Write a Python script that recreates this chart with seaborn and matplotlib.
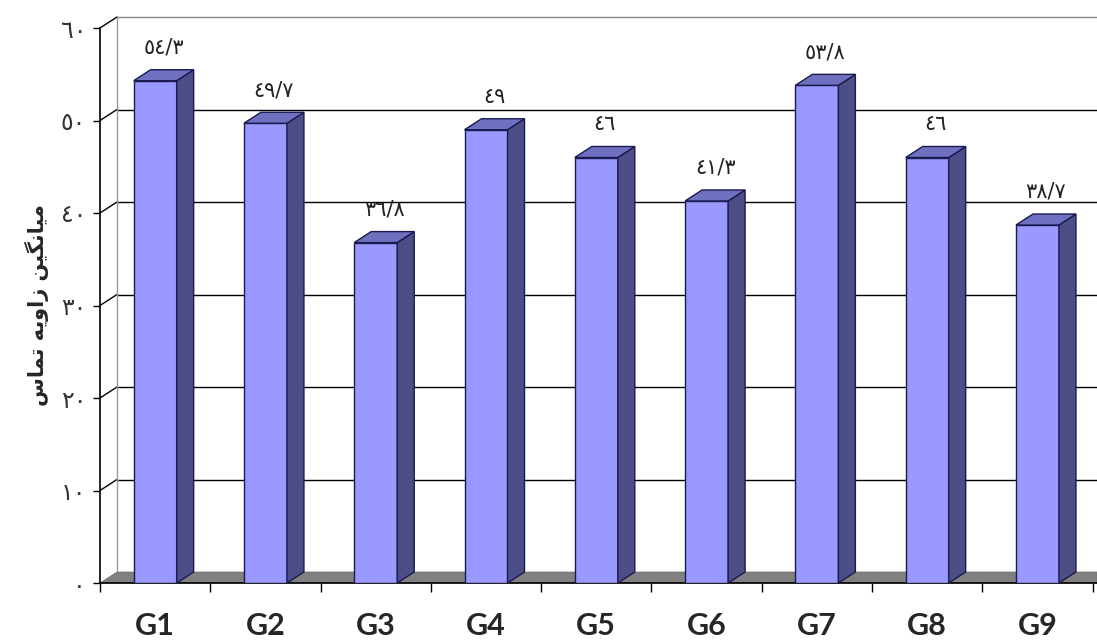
import matplotlib
matplotlib.use("Agg")
import matplotlib.pyplot as plt
import seaborn as sns
import pandas as pd
from matplotlib.patches import Polygon

groups = ["G1", "G2", "G3", "G4", "G5", "G6", "G7", "G8", "G9"]
contact_angle = [54.3, 49.7, 36.8, 49.0, 46.0, 41.3, 53.8, 46.0, 38.7]
value_labels = ["٥٤/٣", "٤٩/٧", "٣٦/٨", "٤٩", "٤٦", "٤١/٣", "٥٣/٨", "٤٦", "٣٨/٧"]
y_ticks = [0, 10, 20, 30, 40, 50, 60]
y_tick_labels = ["٠", "١٠", "٢٠", "٣٠", "٤٠", "٥٠", "٦٠"]

# "میانگین زاویه تماس" written with shaped (presentation) forms, matplotlib has no shaping/bidi
y_title_glyphs = ["\uFEE3", "\uFBFF", "\uFE8E", "\uFEE7", "\uFB95", "\uFBFF", "\uFEE6", " ",
                  "\uFEAF", "\uFE8D", "\uFEED", "\uFBFE", "\uFEEA", " ",
                  "\uFE97", "\uFEE4", "\uFE8E", "\uFEB1"]
y_title = "".join(y_title_glyphs)[::-1]

df = pd.DataFrame({"group": groups, "angle": contact_angle})

FRONT = "#9999FF"
SIDE = "#4D4D88"
TOP = "#7070C0"
EDGE = "#1A1A50"
DEPTH_PX = (17, 11)

sns.set_style("white")
plt.rcParams["font.family"] = ["DejaVu Sans"]

fig = plt.figure(figsize=(10.97, 6.44), dpi=100)
ax = fig.add_axes([100 / 1097, 1 - 583 / 644, 997 / 1097, 555 / 644])

sns.barplot(data=df, x="group", y="angle", color=FRONT, saturation=1,
            width=0.39, edgecolor=EDGE, linewidth=1, ax=ax, zorder=3)

ax.set_xlim(-0.5, 8.54)
ax.set_ylim(0, 60)

# depth offset in data units
x_per_px = (8.54 + 0.5) / 997
y_per_px = 60 / 555
dx = DEPTH_PX[0] * x_per_px
dy = DEPTH_PX[1] * y_per_px
x0, x1 = -0.5, 8.54

# back wall, side wall edge and floor
for v in y_ticks[1:]:
    c = "#888888" if v == 60 else "black"
    ax.plot([x0 + dx, x1], [v + dy, v + dy], color=c, lw=1, zorder=1, clip_on=False)
    ax.plot([x0, x0 + dx], [v, v + dy], color="black", lw=1, zorder=1, clip_on=False)
ax.plot([x0 + dx, x0 + dx], [dy, 60 + dy], color="#999999", lw=1, zorder=1, clip_on=False)
ax.add_patch(Polygon([(x0, 0), (x0 + dx, dy), (x1, dy), (x1, 0)],
                     closed=True, facecolor="#808080", edgecolor="#707070", lw=0.5,
                     zorder=2, clip_on=False))

# 3D side and top faces built from the seaborn bars
for p, lab in zip(ax.patches[:len(groups)], value_labels):
    bx, bw, bh = p.get_x(), p.get_width(), p.get_height()
    side = [(bx + bw, 0), (bx + bw + dx, dy), (bx + bw + dx, bh + dy), (bx + bw, bh)]
    top = [(bx, bh), (bx + dx, bh + dy), (bx + bw + dx, bh + dy), (bx + bw, bh)]
    ax.add_patch(Polygon(side, closed=True, facecolor=SIDE, edgecolor=EDGE, lw=1, zorder=3))
    ax.add_patch(Polygon(top, closed=True, facecolor=TOP, edgecolor=EDGE, lw=1, zorder=3))
    ax.annotate(lab, (bx + bw / 2 + dx / 2, bh + dy), xytext=(0, 16),
                textcoords="offset points", ha="center", va="center",
                fontsize=15, color="#222222")

for s in ["top", "right"]:
    ax.spines[s].set_visible(False)
for s in ["left", "bottom"]:
    ax.spines[s].set_color("black")
    ax.spines[s].set_linewidth(1.2)

ax.set_yticks(y_ticks, y_tick_labels)
ax.tick_params(axis="y", direction="out", length=5, width=1, color="black",
               labelsize=17, labelcolor="#333333", pad=5, left=True)
ax.set_xticks(range(len(groups)), groups)
ax.set_xticks([i - 0.5 for i in range(len(groups) + 1)], minor=True)
ax.tick_params(axis="x", which="major", length=0, pad=21, labelsize=22)
ax.tick_params(axis="x", which="minor", direction="out", length=6.5, width=1,
               color="black", bottom=True)
for t in ax.get_xticklabels():
    t.set_fontfamily(["Lato", "DejaVu Sans"])
    t.set_fontweight("bold")

ax.set_xlabel("")
ax.set_ylabel(y_title, fontsize=15, fontweight="bold", labelpad=8)

fig.savefig("out.png", dpi=100)
